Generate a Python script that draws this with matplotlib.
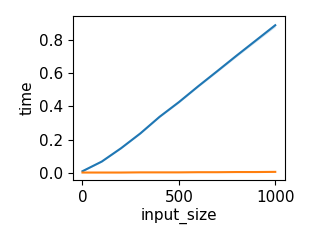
import matplotlib
matplotlib.use("Agg")
import matplotlib.pyplot as plt

# input sizes and measured mean times (two implementations)
input_size = [0, 100, 200, 300, 400, 500, 600, 700, 800, 900, 1000]
time_slow = [0.010, 0.068, 0.148, 0.237, 0.337, 0.425, 0.520, 0.612, 0.705, 0.796, 0.887]
slow_spread = [0.002, 0.003, 0.003, 0.004, 0.004, 0.005, 0.005, 0.006, 0.007, 0.008, 0.010]
time_fast = [0.002, 0.002, 0.002, 0.003, 0.003, 0.003, 0.004, 0.004, 0.005, 0.005, 0.006]
fast_spread = [0.0005, 0.0005, 0.0005, 0.0005, 0.0005, 0.0005, 0.0005, 0.0005, 0.0005, 0.0005, 0.0005]

blue = "#1f77b4"
orange = "#ff7f0e"

plt.rcParams["font.size"] = 11

fig = plt.figure(figsize=(3.1, 2.44), dpi=100)
ax = fig.add_axes([0.235, 0.262, 0.684, 0.672])

ax.fill_between(input_size,
                [m - s for m, s in zip(time_slow, slow_spread)],
                [m + s for m, s in zip(time_slow, slow_spread)],
                color=blue, alpha=0.2, linewidth=0)
ax.plot(input_size, time_slow, color=blue, linewidth=1.5)
ax.fill_between(input_size,
                [m - s for m, s in zip(time_fast, fast_spread)],
                [m + s for m, s in zip(time_fast, fast_spread)],
                color=orange, alpha=0.2, linewidth=0)
ax.plot(input_size, time_fast, color=orange, linewidth=1.5)

ax.set_xlabel("input_size", labelpad=2)
ax.set_ylabel("time", labelpad=3)
ax.set_xticks([0, 500, 1000])
ax.set_yticks([0.0, 0.2, 0.4, 0.6, 0.8])

fig.savefig("out.png", dpi=100)
